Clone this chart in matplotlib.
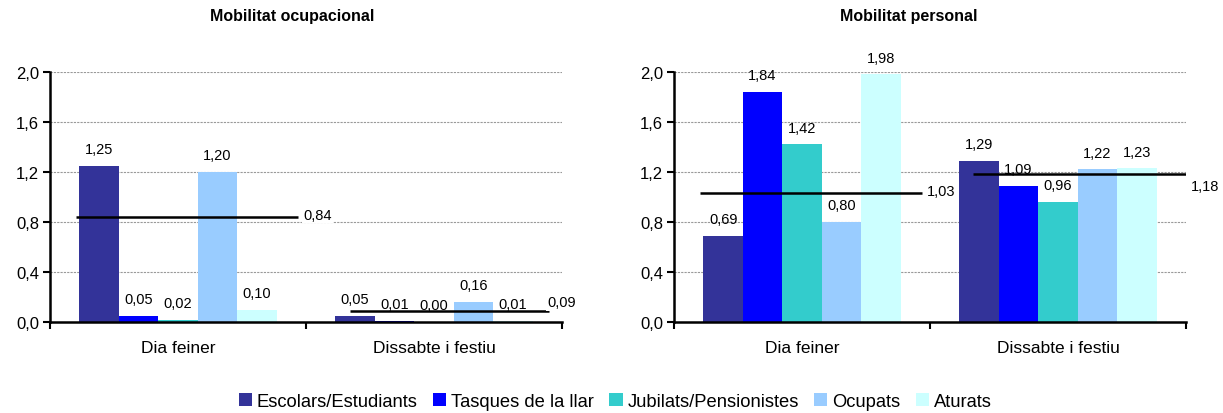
import numpy as np
import matplotlib.pyplot as plt
from matplotlib.ticker import FuncFormatter

plt.rcParams['font.family'] = ['Liberation Sans', 'DejaVu Sans']

# Dataset
categories = ["Dia feiner", "Dissabte i festiu"]
groups = ["Escolars/Estudiants", "Tasques de la llar", "Jubilats/Pensionistes", "Ocupats", "Aturats"]
colors = ["#333399", "#0000FF", "#33CCCC", "#99CCFF", "#CCFFFF"]

titles = ["Mobilitat ocupacional", "Mobilitat personal"]

# values per group: [Dia feiner, Dissabte i festiu]
ocupacional = [[1.25, 0.05], [0.05, 0.01], [0.02, 0.00], [1.20, 0.16], [0.10, 0.01]]
personal = [[0.69, 1.29], [1.84, 1.09], [1.42, 0.96], [0.80, 1.22], [1.98, 1.23]]

# average lines per category
avg_ocupacional = [0.84, 0.09]
avg_personal = [1.03, 1.18]

panels = [(ocupacional, avg_ocupacional), (personal, avg_personal)]


def comma(v, pos=None):
    return f"{v:.1f}".replace(".", ",")


fig = plt.figure(figsize=(12.23, 4.14), dpi=100)
ax1 = fig.add_axes([0.0409, 0.2198, 0.4186, 0.6039])
ax2 = fig.add_axes([0.5511, 0.2198, 0.4186, 0.6039])

# extents of the average lines (relative to category centre) and label offsets
line_start = [-0.40, -0.33]
line_end = [[0.47, 0.45], [0.47, 0.55]]
avg_offsets = [[(3.5, 1.5), (-1.5, 6)], [(3.5, 1.5), (-6, -8)]]
title_x = [0.239, 0.743]

x = np.arange(len(categories))
width = 0.154
for k, (ax, (data, avgs)) in enumerate(zip([ax1, ax2], panels)):
    for i, (name, col) in enumerate(zip(groups, colors)):
        pos = x - 2 * width + i * width
        ax.bar(pos, data[i], width, color=col, label=name, zorder=2)
        for xp, v in zip(pos, data[i]):
            ax.annotate(f"{v:.2f}".replace(".", ","), (xp, v), xytext=(0, 12),
                        textcoords="offset points", ha="center", va="center",
                        fontsize=10.5, zorder=4)
    for j, a in enumerate(avgs):
        x0 = x[j] + line_start[j]
        x1 = x[j] + line_end[k][j]
        ax.hlines(a, x0, x1, color="black", lw=1.8, zorder=3)
        ax.annotate(f"{a:.2f}".replace(".", ","), (x1, a),
                    xytext=avg_offsets[k][j], textcoords="offset points",
                    ha="left", va="center", fontsize=10.5, zorder=4,
                    bbox=dict(facecolor="white", edgecolor="none", pad=1),
                    annotation_clip=False)

    ax.set_xlim(-0.5, 1.5)
    ax.set_ylim(0, 2.0)
    ax.set_yticks(np.arange(0, 2.01, 0.4))
    ax.yaxis.set_major_formatter(FuncFormatter(comma))
    ax.set_xticks([-0.5, 0.5, 1.5])
    ax.set_xticklabels([])
    ax.set_xticks(x, minor=True)
    ax.set_xticklabels(categories, minor=True, fontsize=12.5)
    ax.tick_params(axis="x", which="minor", length=0, pad=13)
    ax.tick_params(axis="x", which="major", direction="out", length=5, width=1.5)
    ax.tick_params(axis="y", direction="out", length=5, width=1.5, labelsize=12, pad=3)
    ax.grid(axis="y", color="#999999", linestyle=(0, (2, 1)), lw=0.8, zorder=0)
    ax.set_axisbelow(True)
    for s in ["top", "right"]:
        ax.spines[s].set_visible(False)
    for s in ["left", "bottom"]:
        ax.spines[s].set_linewidth(1.8)
    fig.text(title_x[k], 0.959, titles[k], fontsize=11.5, fontweight="bold",
             ha="center", va="center")

fig.legend(*ax1.get_legend_handles_labels(), loc="center", bbox_to_anchor=(0.503, 0.027),
           ncol=5, frameon=False, fontsize=13.2, handlelength=0.72, handleheight=0.72,
           handletextpad=0.25, columnspacing=0.85, borderpad=0)

fig.savefig("out.png", dpi=100)
